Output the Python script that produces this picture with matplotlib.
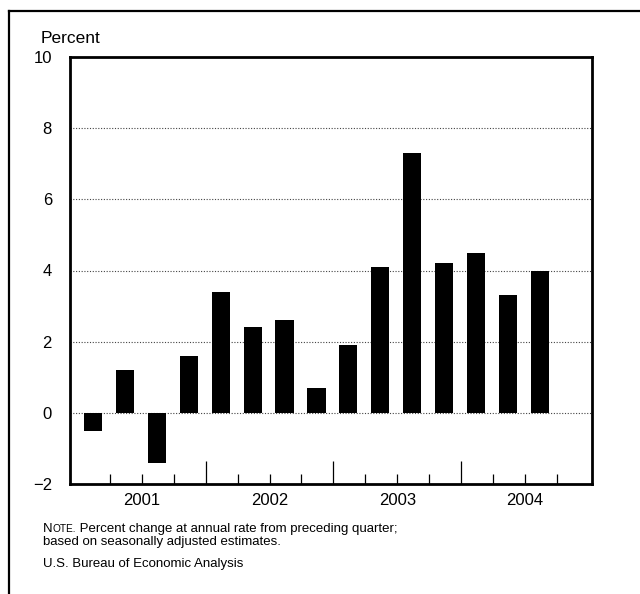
import matplotlib
matplotlib.use("Agg")
import matplotlib.pyplot as plt
from matplotlib.lines import Line2D
import matplotlib.transforms as mtransforms

plt.rcParams['font.family'] = ['Liberation Sans', 'DejaVu Sans']

# Data: quarterly percent change, 2001Q1 .. 2004Q3
quarters = ["2001Q1", "2001Q2", "2001Q3", "2001Q4",
            "2002Q1", "2002Q2", "2002Q3", "2002Q4",
            "2003Q1", "2003Q2", "2003Q3", "2003Q4",
            "2004Q1", "2004Q2", "2004Q3"]
values = [-0.5, 1.2, -1.4, 1.6,
          3.4, 2.4, 2.6, 0.7,
          1.9, 4.1, 7.3, 4.2,
          4.5, 3.3, 4.0]
years = ["2001", "2002", "2003", "2004"]
y_ticks = [-2, 0, 2, 4, 6, 8, 10]
grid_levels = [0, 2, 4, 6, 8]

W, H = 640, 594
fig = plt.figure(figsize=(W / 100, H / 100), dpi=100)
ax = fig.add_axes([70 / W, 1 - 484 / H, (592 - 70) / W, (484 - 57) / H])

xpos = [i + 0.47 for i in range(len(values))]
ax.bar(xpos, values, width=0.57, color='black', zorder=3)

ax.set_xlim(-0.25, 16.1)
ax.set_ylim(-2, 10)

for g in grid_levels:
    ax.axhline(g, color='#444444', linestyle=(0, (1, 1.5)), linewidth=0.8, zorder=1)

for s in ax.spines.values():
    s.set_linewidth(2.0)
    s.set_color('black')

ax.set_yticks(y_ticks)
ax.set_yticklabels([str(v).replace('-', '\u2212') for v in y_ticks], fontsize=12)
ax.tick_params(axis='y', length=0, pad=13)

ax.set_xticks([4, 8, 12])
ax.set_xticklabels([])
ax.set_xticks([1, 2, 3, 5, 6, 7, 9, 10, 11, 13, 14, 15], minor=True)
ax.tick_params(axis='x', which='major', direction='in', length=16.5, width=0.9, color='black')
ax.tick_params(axis='x', which='minor', direction='in', length=7.2, width=0.9, color='black')
ax.tick_params(axis='x', which='both', top=False, labelbottom=False)

trans = mtransforms.blended_transform_factory(ax.transData, ax.transAxes)
for k, yr in enumerate(years):
    ax.text(2 + 4 * k, -0.021, yr, transform=trans, ha='center', va='top', fontsize=12)

fig.text(41 / W, 1 - 42.7 / H, "Percent", fontsize=12.5, ha='left', va='baseline')

# Outer frame (left and top only)
fig.add_artist(Line2D([8.5 / W, 8.5 / W], [0, 1 - 11 / H], transform=fig.transFigure,
                      color='black', linewidth=1.6))
fig.add_artist(Line2D([8.5 / W, 1], [1 - 11 / H, 1 - 11 / H], transform=fig.transFigure,
                      color='black', linewidth=1.6))

# Note with small caps
renderer = fig.canvas.get_renderer()
x0 = 43.3
yb1 = 1 - 531.7 / H
t1 = fig.text(x0 / W, yb1, "N", fontsize=9.5, va='baseline', ha='left')
w1 = t1.get_window_extent(renderer).width
t2 = fig.text((x0 + w1) / W, yb1, "OTE.", fontsize=7.3, va='baseline', ha='left')
w2 = t2.get_window_extent(renderer).width
fig.text((x0 + w1 + w2) / W, yb1, " Percent change at annual rate from preceding quarter;",
         fontsize=9.5, va='baseline', ha='left')
fig.text(x0 / W, 1 - 545 / H, "based on seasonally adjusted estimates.",
         fontsize=9.5, va='baseline', ha='left')
fig.text(x0 / W, 1 - 566.7 / H, "U.S. Bureau of Economic Analysis",
         fontsize=9.5, va='baseline', ha='left')

fig.savefig("out.png", dpi=100)
